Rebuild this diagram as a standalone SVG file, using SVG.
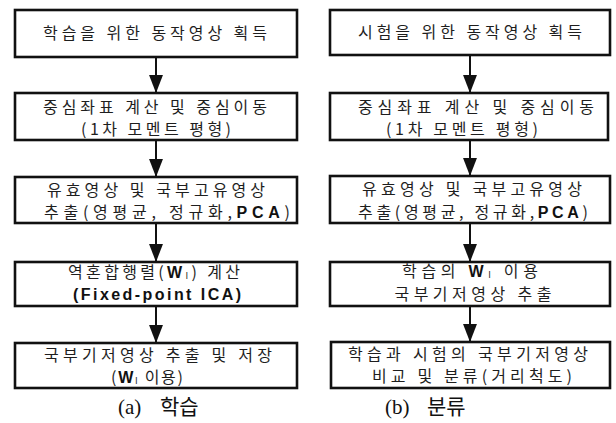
<svg xmlns="http://www.w3.org/2000/svg" width="616" height="423" viewBox="0 0 616 423">
<style>
.box{fill:#fff;stroke:#111;stroke-width:2.6}
.t{font-family:"Noto Sans CJK KR","Liberation Sans",sans-serif;font-size:16px;fill:#1e1e1e;text-anchor:middle}
.b{font-family:"Liberation Sans","Noto Sans CJK KR",sans-serif;font-weight:bold;fill:#111}
.sub{font-size:9px}
.cap{font-family:"Liberation Serif","Noto Sans CJK KR",serif;font-size:21px;fill:#111}
.ln{stroke:#111;stroke-width:2}
</style>
<defs>
<marker id="ah" markerUnits="userSpaceOnUse" markerWidth="18" markerHeight="24" refX="22" refY="8.5" orient="auto" viewBox="0 0 22 17">
<path d="M0,0 L22,8.5 L0,17 Z" fill="#111"/>
</marker>
</defs>
<g id="connectors">
<line class="ln" x1="156" y1="57" x2="156" y2="93" marker-end="url(#ah)"/>
<line class="ln" x1="156" y1="140" x2="156" y2="177" marker-end="url(#ah)"/>
<line class="ln" x1="156" y1="223" x2="156" y2="262" marker-end="url(#ah)"/>
<line class="ln" x1="156" y1="306" x2="156" y2="343" marker-end="url(#ah)"/>
<line class="ln" x1="470" y1="55" x2="470" y2="93" marker-end="url(#ah)"/>
<line class="ln" x1="470" y1="140" x2="470" y2="176" marker-end="url(#ah)"/>
<line class="ln" x1="470" y1="223" x2="470" y2="262" marker-end="url(#ah)"/>
<line class="ln" x1="470" y1="306" x2="470" y2="342" marker-end="url(#ah)"/>
</g>
<g id="a1"><rect class="box" x="15" y="10" width="282" height="47"/>
<text class="t" x="155" y="39" textLength="224" lengthAdjust="spacing">학습을 위한 동작영상 획득</text></g>
<g id="a2"><rect class="box" x="15" y="93" width="282" height="47"/>
<text class="t" x="155" y="113" textLength="224" lengthAdjust="spacing">중심좌표 계산 및 중심이동</text>
<text class="t" x="156" y="135" textLength="150" lengthAdjust="spacing">(1차 모멘트 평형)</text></g>
<g id="a3"><rect class="box" x="15" y="177" width="282" height="46"/>
<text class="t" x="156" y="196" textLength="218" lengthAdjust="spacing">유효영상 및 국부고유영상</text>
<text class="t" x="167" y="218" textLength="246" lengthAdjust="spacing">추출(영평균, 정규화,<tspan class="b">PCA</tspan>)</text></g>
<g id="a4"><rect class="box" x="15" y="262" width="282" height="44"/>
<text class="t" x="154" y="278" textLength="172" lengthAdjust="spacing">역혼합행렬(<tspan class="b">W</tspan><tspan class="sub" dy="1">I</tspan><tspan dy="-1">) 계산</tspan></text>
<text class="t b" x="157" y="300" textLength="168" lengthAdjust="spacing">(Fixed-point ICA)</text></g>
<g id="a5"><rect class="box" x="15" y="343" width="282" height="45"/>
<text class="t" x="158" y="361" textLength="228" lengthAdjust="spacing">국부기저영상 추출 및 저장</text>
<text class="t" x="147" y="383" textLength="72" lengthAdjust="spacing">(<tspan class="b">W</tspan><tspan class="sub" dy="1">I</tspan><tspan dy="-1"> 이용)</tspan></text></g>
<g id="b1"><rect class="box" x="330" y="10" width="280" height="45"/>
<text class="t" x="470" y="38" textLength="224" lengthAdjust="spacing">시험을 위한 동작영상 획득</text></g>
<g id="b2"><rect class="box" x="330" y="93" width="278" height="47"/>
<text class="t" x="476" y="113" textLength="236" lengthAdjust="spacing">중심좌표 계산 및 중심이동</text>
<text class="t" x="462" y="135" textLength="152" lengthAdjust="spacing">(1차 모멘트 평형)</text></g>
<g id="b3"><rect class="box" x="330" y="176" width="280" height="47"/>
<text class="t" x="472" y="195" textLength="220" lengthAdjust="spacing">유효영상 및 국부고유영상</text>
<text class="t" x="473" y="218" textLength="230" lengthAdjust="spacing">추출(영평균, 정규화,<tspan class="b">PCA</tspan>)</text></g>
<g id="b4"><rect class="box" x="330" y="262" width="280" height="44"/>
<text class="t" x="470" y="277" textLength="136" lengthAdjust="spacing">학습의 <tspan class="b">W</tspan><tspan class="sub" dy="1">I</tspan><tspan dy="-1"> 이용</tspan></text>
<text class="t" x="473" y="300" textLength="157" lengthAdjust="spacing">국부기저영상 추출</text></g>
<g id="b5"><rect class="box" x="331" y="342" width="279" height="46"/>
<text class="t" x="468" y="360" textLength="240" lengthAdjust="spacing">학습과 시험의 국부기저영상</text>
<text class="t" x="472" y="382" textLength="200" lengthAdjust="spacing">비교 및 분류(거리척도)</text></g>
<g id="captions">
<text class="cap" x="118" y="414">(a) <tspan x="160">학습</tspan></text>
<text class="cap" x="385" y="414">(b) <tspan x="427">분류</tspan></text>
</g>
</svg>
